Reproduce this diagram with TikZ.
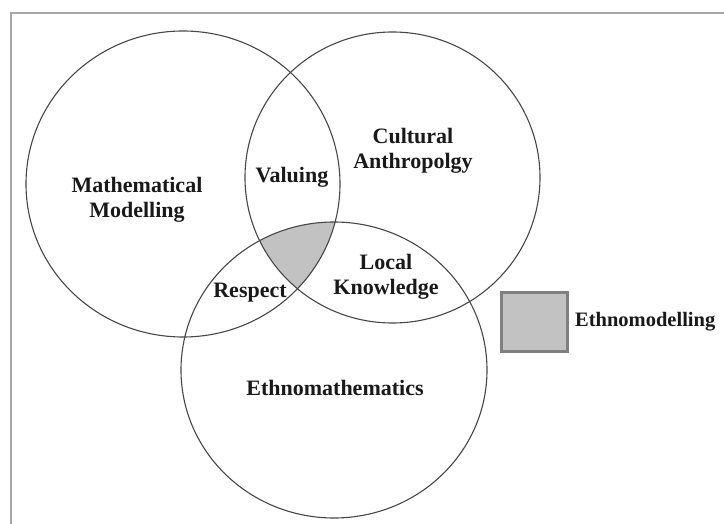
\documentclass[tikz,border=0pt]{standalone}
\usepackage{fontspec}
\setmainfont{Liberation Serif}
\begin{document}
\begin{tikzpicture}[x=1pt,y=-1pt,
  ring/.style={draw=black!72,line width=1.1pt},
  lbl/.style={font=\fontsize{22}{25}\selectfont\bfseries,text=black!90,align=center,inner sep=0pt},
  frameline/.style={draw=black!35,line width=2.2pt},
  shade/.style={fill=black!24}]
\useasboundingbox (0,0) rectangle (724,524);
\clip (0,0) rectangle (724,524);
\fill[white] (0,0) rectangle (724,524);
% frame
\coordinate (fbl) at (11,530);
\coordinate (ftl) at (11,13);
\coordinate (ftr) at (730,13);
\draw[frameline] (fbl) -- (ftl) -- (ftr);
% shaded triple intersection
\begin{scope}
  \clip (183,184) ellipse [x radius=157, y radius=153];
  \clip (392.5,177.5) ellipse [x radius=147.5, y radius=145.5];
  \fill[shade] (334,370) ellipse [x radius=153, y radius=148];
\end{scope}
% circles
\draw[ring] (183,184) ellipse [x radius=157, y radius=153];
\draw[ring] (392.5,177.5) ellipse [x radius=147.5, y radius=145.5];
\draw[ring] (334,370) ellipse [x radius=153, y radius=148];
% legend square
\node[shade,draw=black!50,line width=2.4pt,minimum width=66pt,minimum height=59pt,inner sep=0pt] (key) at (534.5,322) {};
\node[lbl,anchor=west,font=\fontsize{20.5}{25}\selectfont\bfseries] (ethmod) at (575,322) {Ethnomodelling};
% labels
\node[lbl] (mm) at (137,200) {Mathematical\\Modelling};
\node[lbl] (val) at (292,177) {Valuing};
\node[lbl] (ca) at (413,151) {Cultural\\Anthropolgy};
\node[lbl] (lk) at (386,277) {Local\\Knowledge};
\node[lbl] (resp) at (250,293) {Respect};
\node[lbl] (em) at (335,388) {Ethnomathematics};
\end{tikzpicture}
\end{document}
